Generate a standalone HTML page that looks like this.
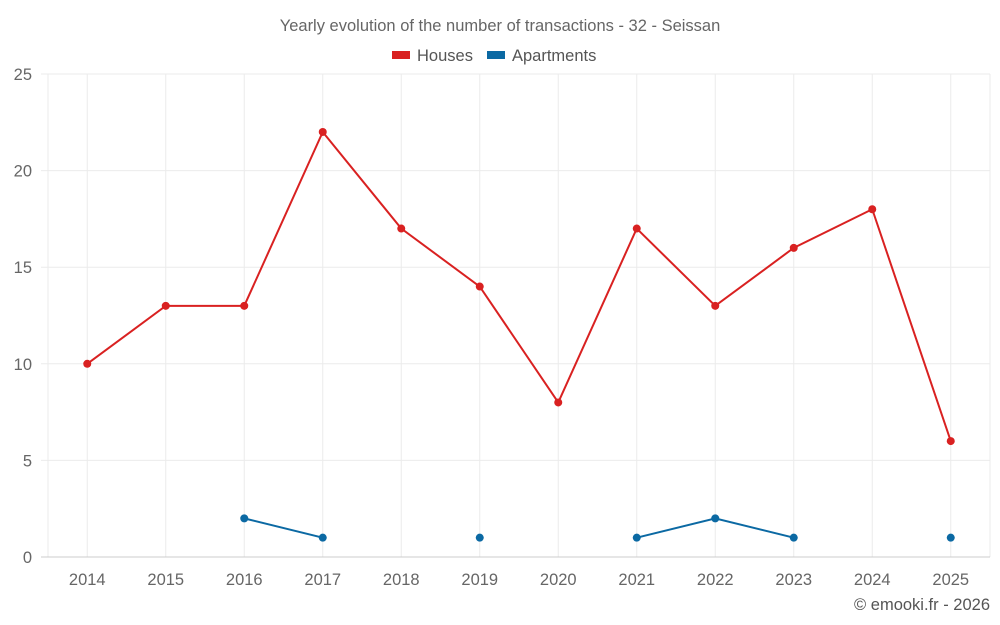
<!DOCTYPE html>
<html><head><meta charset="utf-8"><style>
body{margin:0;background:#fff;}
svg{display:block;font-family:"Liberation Sans",sans-serif;}
</style></head><body>
<svg id="chart" width="1000" height="625">
<text x="500" y="31" text-anchor="middle" font-size="16.5" fill="#666">Yearly evolution of the number of transactions - 32 - Seissan</text>
<g>
<g><rect x="392" y="51" width="18" height="8" fill="#d92121"/><text x="417" y="61" font-size="16.5" fill="#555">Houses</text></g>
<g><rect x="487" y="51" width="18" height="8" fill="#0b69a3"/><text x="512" y="61" font-size="16.5" fill="#555">Apartments</text></g>
</g>
<g id="grid"></g><g id="axes"></g><g id="series"></g>
<text x="990" y="610" text-anchor="end" font-size="16.5" fill="#555">© emooki.fr - 2026</text>
</svg>
<script>
const categories=["2014","2015","2016","2017","2018","2019","2020","2021","2022","2023","2024","2025"];
const houses=[10,13,13,22,17,14,8,17,13,16,18,6];
const apartments=[null,null,2,1,null,1,null,1,2,1,null,1];
const yTicks=[0,5,10,15,20,25];
const L=48,R=990,T=74,B=557,YMAX=25;
const band=(R-L)/categories.length;
const x=i=>L+band*(i+0.5);
const y=v=>B-(B-T)*v/YMAX;
const NS="http://www.w3.org/2000/svg";
function mk(tag,attrs,parent){const e=document.createElementNS(NS,tag);for(const k in attrs)e.setAttribute(k,attrs[k]);parent.appendChild(e);return e;}
const grid=document.getElementById('grid'),axes=document.getElementById('axes'),ser=document.getElementById('series');
const vx=[L].concat(categories.map((c,i)=>x(i))).concat([R]);
vx.forEach(px=>{
 const l=mk('line',{x1:px,x2:px,y1:T,y2:B,stroke:'#ebebeb','stroke-width':1},grid);
 
 
});
yTicks.forEach(t=>{
 const l=mk('line',{x1:41,x2:R,y1:y(t),y2:y(t),stroke:t===0?'#ccc':'#ebebeb','stroke-width':1},grid);
 
 
 const tx=mk('text',{x:32,y:y(t)+6,'text-anchor':'end','font-size':16.5,fill:'#666'},axes);
 tx.textContent=t;
 
 
});
categories.forEach((c,i)=>{
 const tx=mk('text',{x:x(i),y:585,'text-anchor':'middle','font-size':16.5,fill:'#666'},axes);
 tx.textContent=c;
 
 
});
function draw(vals,color,name){
 let seg=[];
 const segs=[];
 vals.forEach((v,i)=>{if(v==null){if(seg.length)segs.push(seg);seg=[];}else seg.push([x(i),y(v)]);});
 if(seg.length)segs.push(seg);
 segs.forEach(s=>{if(s.length>1){
  const p=mk('polyline',{points:s.map(q=>q.join(',')).join(' '),fill:'none',stroke:color,'stroke-width':2},ser);
  
  
 }});
 vals.forEach((v,i)=>{if(v==null)return;
  const c=mk('circle',{cx:x(i),cy:y(v),r:4,fill:color},ser);
  
  
 });
}
draw(houses,'#d92121','houses');
draw(apartments,'#0b69a3','apartments');
</script>
</body></html>
